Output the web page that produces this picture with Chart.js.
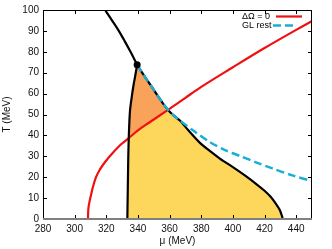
<!DOCTYPE html>
<html>
<head>
<meta charset="utf-8">
<script src="https://cdn.jsdelivr.net/npm/chart.js@4"></script>
<style>
html,body{margin:0;padding:0;background:#fff}
#wrap{width:332px;height:249px}
</style>
</head>
<body>
<div id="wrap"><canvas id="c"></canvas></div>
<script>
// curves: mu (MeV) and T (MeV)
const redMu = [308.4, 308.6, 309.2, 310.2, 311.6, 313.5, 315.9, 320, 324.3, 329, 334.2, 340, 345.4, 350, 359, 370, 380, 400, 420, 450];
const redT  = [0, 4, 7.5, 11, 15.4, 20, 23.6, 28, 31.8, 35.5, 38.7, 42.4, 45.3, 47.6, 52.2, 58, 63.2, 72.6, 81.8, 94.8];

const leftMu = [333.3, 333.5, 333.7, 333.9, 334.2, 334.5, 335, 336, 337.2, 338.4, 339.5];
const leftT  = [0, 10, 20, 30, 38.7, 45, 52, 58, 64, 69, 73.8];

const upperMu = [339.5, 335.3, 331.7, 327.9, 323.6, 319.2];
const upperT  = [73.8, 80, 85, 90, 95, 100];

const rightMu = [339.5, 342, 345, 349, 353, 356, 359, 362.5, 366.5, 372, 378.7, 385, 392, 400, 408, 415, 420, 424, 427, 429.5, 431, 431.5];
const rightT  = [73.8, 70.8, 67.4, 63, 58.4, 55.1, 52.2, 49.6, 47.1, 42.3, 36.8, 32.8, 28.8, 24.8, 20.6, 16.6, 13.5, 10.5, 7.5, 4.5, 1.5, 0];

const glMu = [339.5, 342, 345, 349, 353, 356, 359, 362.5, 366.5, 375, 385, 395, 405, 415, 425, 437, 450];
const glT  = [73.8, 70.8, 67.4, 63, 58.4, 55.1, 52.2, 49.6, 47.1, 42.3, 37, 33, 30, 27, 24.2, 21, 18.1];

const critMu = [339.5];
const critT = [73.8];

const xTicks = [280, 300, 320, 340, 360, 380, 400, 420, 440];
const yTicks = [0, 10, 20, 30, 40, 50, 60, 70, 80, 90, 100];

const legendLabels = ['ΔΩ = 0', 'GL rest'];

const RED = '#f01010', CYAN = '#1aaed6', ORANGE = '#f9a25a', YELLOW = '#fdd65c';

function pts(mu, t){ return mu.map((m, i) => ({x: m, y: t[i]})); }

const red = pts(redMu, redT), left = pts(leftMu, leftT), right = pts(rightMu, rightT);
const leftCut = leftT.indexOf(38.7);
const redA = redMu.indexOf(334.2), redB = redMu.indexOf(359);
const rightCut = rightMu.indexOf(359);

const orangeShape = [].concat(left.slice(leftCut), right.slice(1, rightCut + 1), red.slice(redA, redB).reverse());
const yellowShape = [].concat(left.slice(0, leftCut + 1), red.slice(redA + 1, redB), right.slice(rightCut));

function line(data, color, order, extra){
  return Object.assign({data, showLine: true, borderColor: color, borderWidth: 2.2, pointRadius: 0, tension: 0, fill: false, order}, extra || {});
}

const frame = {
  id: 'frame',
  afterDraw(chart){
    const {ctx, chartArea: a, scales: {x, y}} = chart;
    ctx.save();
    ctx.strokeStyle = '#000';
    ctx.lineWidth = 1;
    ctx.beginPath();
    xTicks.forEach(v => {
      const p = Math.round(x.getPixelForValue(v)) + 0.5;
      ctx.moveTo(p, a.bottom); ctx.lineTo(p, a.bottom - 4);
      ctx.moveTo(p, a.top); ctx.lineTo(p, a.top + 4);
    });
    yTicks.forEach(v => {
      const p = Math.round(y.getPixelForValue(v)) + 0.5;
      ctx.moveTo(a.left, p); ctx.lineTo(a.left + 4, p);
      ctx.moveTo(a.right, p); ctx.lineTo(a.right - 4, p);
    });
    ctx.stroke();
    ctx.beginPath();
    ctx.moveTo(a.left + 0.5, a.bottom); ctx.lineTo(a.left + 0.5, a.top + 0.5);
    ctx.lineTo(a.right - 0.5, a.top + 0.5); ctx.lineTo(a.right - 0.5, a.bottom);
    ctx.stroke();
    ctx.strokeStyle = '#808080';
    ctx.lineWidth = 2;
    ctx.beginPath();
    ctx.moveTo(a.left, a.bottom); ctx.lineTo(a.right, a.bottom);
    ctx.stroke();

    // key, top right
    ctx.font = '9px "Liberation Sans", Arial, sans-serif';
    ctx.fillStyle = '#000';
    ctx.textAlign = 'left';
    ctx.textBaseline = 'middle';
    ctx.fillText(legendLabels[0], 242, 16.5);
    ctx.fillText(legendLabels[1], 242, 25.5);
    ctx.lineWidth = 2.2;
    ctx.strokeStyle = RED;
    ctx.beginPath(); ctx.moveTo(276, 16.5); ctx.lineTo(302, 16.5); ctx.stroke();
    ctx.strokeStyle = CYAN;
    ctx.lineWidth = 2.5;
    ctx.setLineDash([8, 4]);
    ctx.beginPath(); ctx.moveTo(273, 25.5); ctx.lineTo(294, 25.5); ctx.stroke();
    ctx.restore();
  }
};

const font = {family: '"Liberation Sans", Arial, sans-serif', size: 10};

new Chart(document.getElementById('c'), {
  type: 'scatter',
  data: {
    datasets: [
      {data: pts(critMu, critT), pointRadius: 3.5, pointBackgroundColor: '#000', pointBorderWidth: 0, showLine: false, order: 0},
      line(pts(glMu, glT), CYAN, 1, {borderWidth: 2.5, borderDash: [8, 4], tension: 0.3}),
      line(right, '#000', 2, {tension: 0.3}),
      line(left, '#000', 3, {tension: 0.3}),
      line(pts(upperMu, upperT), '#000', 4, {tension: 0.3}),
      line(red, RED, 5, {cubicInterpolationMode: 'monotone'}),
      line(orangeShape, ORANGE, 6, {borderWidth: 0, fill: 'shape', backgroundColor: ORANGE}),
      line(yellowShape, YELLOW, 7, {borderWidth: 0, fill: 'shape', backgroundColor: YELLOW})
    ]
  },
  options: {
    responsive: true,
    maintainAspectRatio: false,
    animation: false,
    layout: {padding: {top: 9, right: 20, left: 0, bottom: 0}},
    plugins: {legend: {display: false}, tooltip: {enabled: false}},
    scales: {
      x: {
        type: 'linear', min: 280, max: 450,
        grid: {display: false, drawTicks: false},
        border: {display: false},
        afterBuildTicks: s => { s.ticks = xTicks.map(v => ({value: v})); },
        afterFit: s => { s.height = 30; },
        ticks: {font, color: '#111', padding: 4, maxRotation: 0},
        title: {display: true, text: 'μ (MeV)', font, color: '#111', padding: {top: 0, bottom: 2}}
      },
      y: {
        type: 'linear', min: 0, max: 100,
        grid: {display: false, drawTicks: false},
        border: {display: false},
        afterBuildTicks: s => { s.ticks = yTicks.map(v => ({value: v})); },
        afterFit: s => { s.width = 43; },
        ticks: {font, color: '#111', padding: 4},
        title: {display: true, text: 'T (MeV)', font, color: '#111', padding: {top: 1, bottom: 0}}
      }
    }
  },
  plugins: [frame]
});
</script>
</body>
</html>
